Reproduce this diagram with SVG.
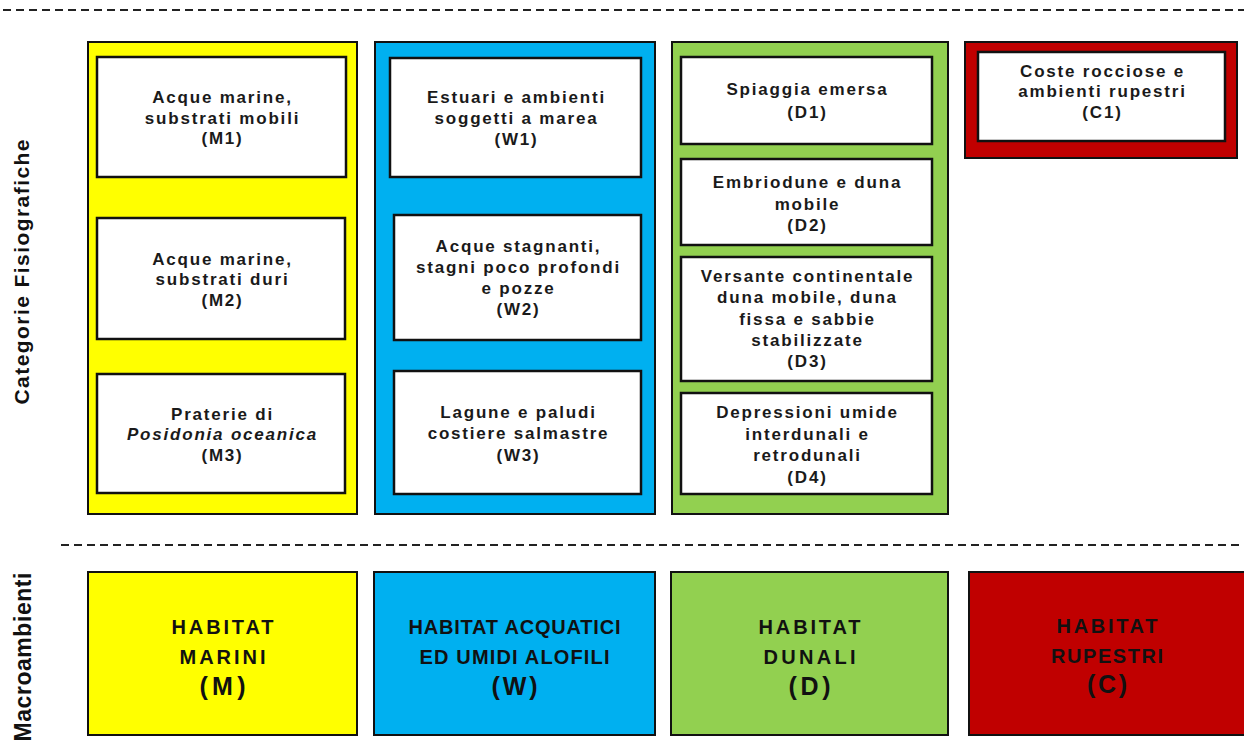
<svg xmlns="http://www.w3.org/2000/svg" width="1244" height="756" viewBox="0 0 1244 756">
<style>
.sep{stroke:#222;stroke-width:2;stroke-dasharray:8 5;fill:none}
.col{stroke:#111;stroke-width:2}
.box{fill:#fff;stroke:#111;stroke-width:2.5}
.t{font-family:"Liberation Sans",Arial,sans-serif;font-weight:bold;font-size:17px;letter-spacing:1.8px;fill:#1a1a1a;text-anchor:middle}
.h{font-family:"Liberation Sans",Arial,sans-serif;font-weight:bold;font-size:20px;fill:#111;text-anchor:middle}
.hb{font-family:"Liberation Sans",Arial,sans-serif;font-weight:bold;font-size:25px;fill:#111;text-anchor:middle}
.side{font-family:"Liberation Sans",Arial,sans-serif;font-weight:bold;fill:#111;text-anchor:middle}
.y{fill:#FFFF00}.b{fill:#00B0F0}.g{fill:#92D050}.r{fill:#C00000}
</style>
<rect width="1244" height="756" fill="#fff"/>
<g id="separators">
<line class="sep" x1="3" y1="10" x2="1244" y2="10"/>
<line class="sep" x1="61" y1="545" x2="1244" y2="545"/>
</g>
<g id="connectors"></g>
<g id="side-labels">
<text class="side" font-size="21" transform="translate(29,272) rotate(-90)" textLength="265" lengthAdjust="spacing">Categorie Fisiografiche</text>
<text class="side" font-size="23" transform="translate(31,657) rotate(-90)" textLength="169" lengthAdjust="spacing">Macroambienti</text>
</g>
<g id="col-M"><rect class="col y" x="88" y="42" width="269" height="472"/></g>
<g id="col-W"><rect class="col b" x="375" y="42" width="280" height="472"/></g>
<g id="col-D"><rect class="col g" x="672" y="42" width="276" height="472"/></g>
<g id="col-C"><rect class="col r" x="965" y="42" width="272" height="116"/></g>

<g id="M1"><rect class="box" x="97" y="57" width="249" height="120"/>
<text class="t" x="222.5" y="103">Acque marine,</text><text class="t" x="222.5" y="124">substrati mobili</text><text class="t" x="222.5" y="144">(M1)</text></g>
<g id="M2"><rect class="box" x="97" y="218" width="248" height="121"/>
<text class="t" x="222.5" y="265">Acque marine,</text><text class="t" x="222.5" y="285">substrati duri</text><text class="t" x="222.5" y="306">(M2)</text></g>
<g id="M3"><rect class="box" x="97" y="374" width="248" height="119"/>
<text class="t" x="222.5" y="420">Praterie di</text><text class="t" x="222.5" y="440" font-style="italic">Posidonia oceanica</text><text class="t" x="222.5" y="461">(M3)</text></g>

<g id="W1"><rect class="box" x="390" y="58" width="251" height="119"/>
<text class="t" x="516.5" y="103">Estuari e ambienti</text><text class="t" x="516.5" y="124">soggetti a marea</text><text class="t" x="516.5" y="145">(W1)</text></g>
<g id="W2"><rect class="box" x="394" y="215" width="247" height="125"/>
<text class="t" x="518.5" y="252">Acque stagnanti,</text><text class="t" x="518.5" y="273">stagni poco profondi</text><text class="t" x="518.5" y="294">e pozze</text><text class="t" x="518.5" y="315">(W2)</text></g>
<g id="W3"><rect class="box" x="394" y="371" width="247" height="123"/>
<text class="t" x="518.5" y="418">Lagune e paludi</text><text class="t" x="518.5" y="439">costiere salmastre</text><text class="t" x="518.5" y="461">(W3)</text></g>

<g id="D1"><rect class="box" x="681" y="57" width="251" height="87"/>
<text class="t" x="807.5" y="95">Spiaggia emersa</text><text class="t" x="807.5" y="118">(D1)</text></g>
<g id="D2"><rect class="box" x="681" y="159" width="251" height="86"/>
<text class="t" x="807.5" y="188">Embriodune e duna</text><text class="t" x="807.5" y="210">mobile</text><text class="t" x="807.5" y="231">(D2)</text></g>
<g id="D3"><rect class="box" x="681" y="257" width="251" height="124"/>
<text class="t" x="807.5" y="282">Versante continentale</text><text class="t" x="807.5" y="303">duna mobile, duna</text><text class="t" x="807.5" y="325">fissa e sabbie</text><text class="t" x="807.5" y="346">stabilizzate</text><text class="t" x="807.5" y="367">(D3)</text></g>
<g id="D4"><rect class="box" x="681" y="393" width="251" height="101"/>
<text class="t" x="807.5" y="418">Depressioni umide</text><text class="t" x="807.5" y="440">interdunali e</text><text class="t" x="807.5" y="461">retrodunali</text><text class="t" x="807.5" y="483">(D4)</text></g>

<g id="C1"><rect class="box" x="978" y="52" width="247" height="89"/>
<text class="t" x="1102.5" y="77">Coste rocciose e</text><text class="t" x="1102.5" y="97">ambienti rupestri</text><text class="t" x="1102.5" y="118">(C1)</text></g>

<g id="M"><rect class="col y" x="88" y="572" width="269" height="163"/>
<text class="h" x="222.5" y="634" textLength="102" lengthAdjust="spacing">HABITAT</text><text class="h" x="222.5" y="664" textLength="86" lengthAdjust="spacing">MARINI</text><text class="hb" x="222.5" y="695" textLength="46" lengthAdjust="spacing">(M)</text></g>
<g id="W"><rect class="col b" x="374" y="572" width="281" height="163"/>
<text class="h" x="514.5" y="634" textLength="212" lengthAdjust="spacing">HABITAT ACQUATICI</text><text class="h" x="514.5" y="664" textLength="190" lengthAdjust="spacing">ED UMIDI ALOFILI</text><text class="hb" x="514.5" y="695" textLength="46" lengthAdjust="spacing">(W)</text></g>
<g id="D"><rect class="col g" x="671" y="572" width="277" height="163"/>
<text class="h" x="809.5" y="634" textLength="102" lengthAdjust="spacing">HABITAT</text><text class="h" x="809.5" y="664" textLength="92" lengthAdjust="spacing">DUNALI</text><text class="hb" x="809.5" y="695" textLength="42" lengthAdjust="spacing">(D)</text></g>
<g id="C"><rect class="col r" x="969" y="572" width="280" height="163"/>
<text class="h" x="1107" y="633" textLength="101" lengthAdjust="spacing">HABITAT</text><text class="h" x="1107" y="663" textLength="112" lengthAdjust="spacing">RUPESTRI</text><text class="hb" x="1107" y="693" textLength="40" lengthAdjust="spacing">(C)</text></g>
</svg>
